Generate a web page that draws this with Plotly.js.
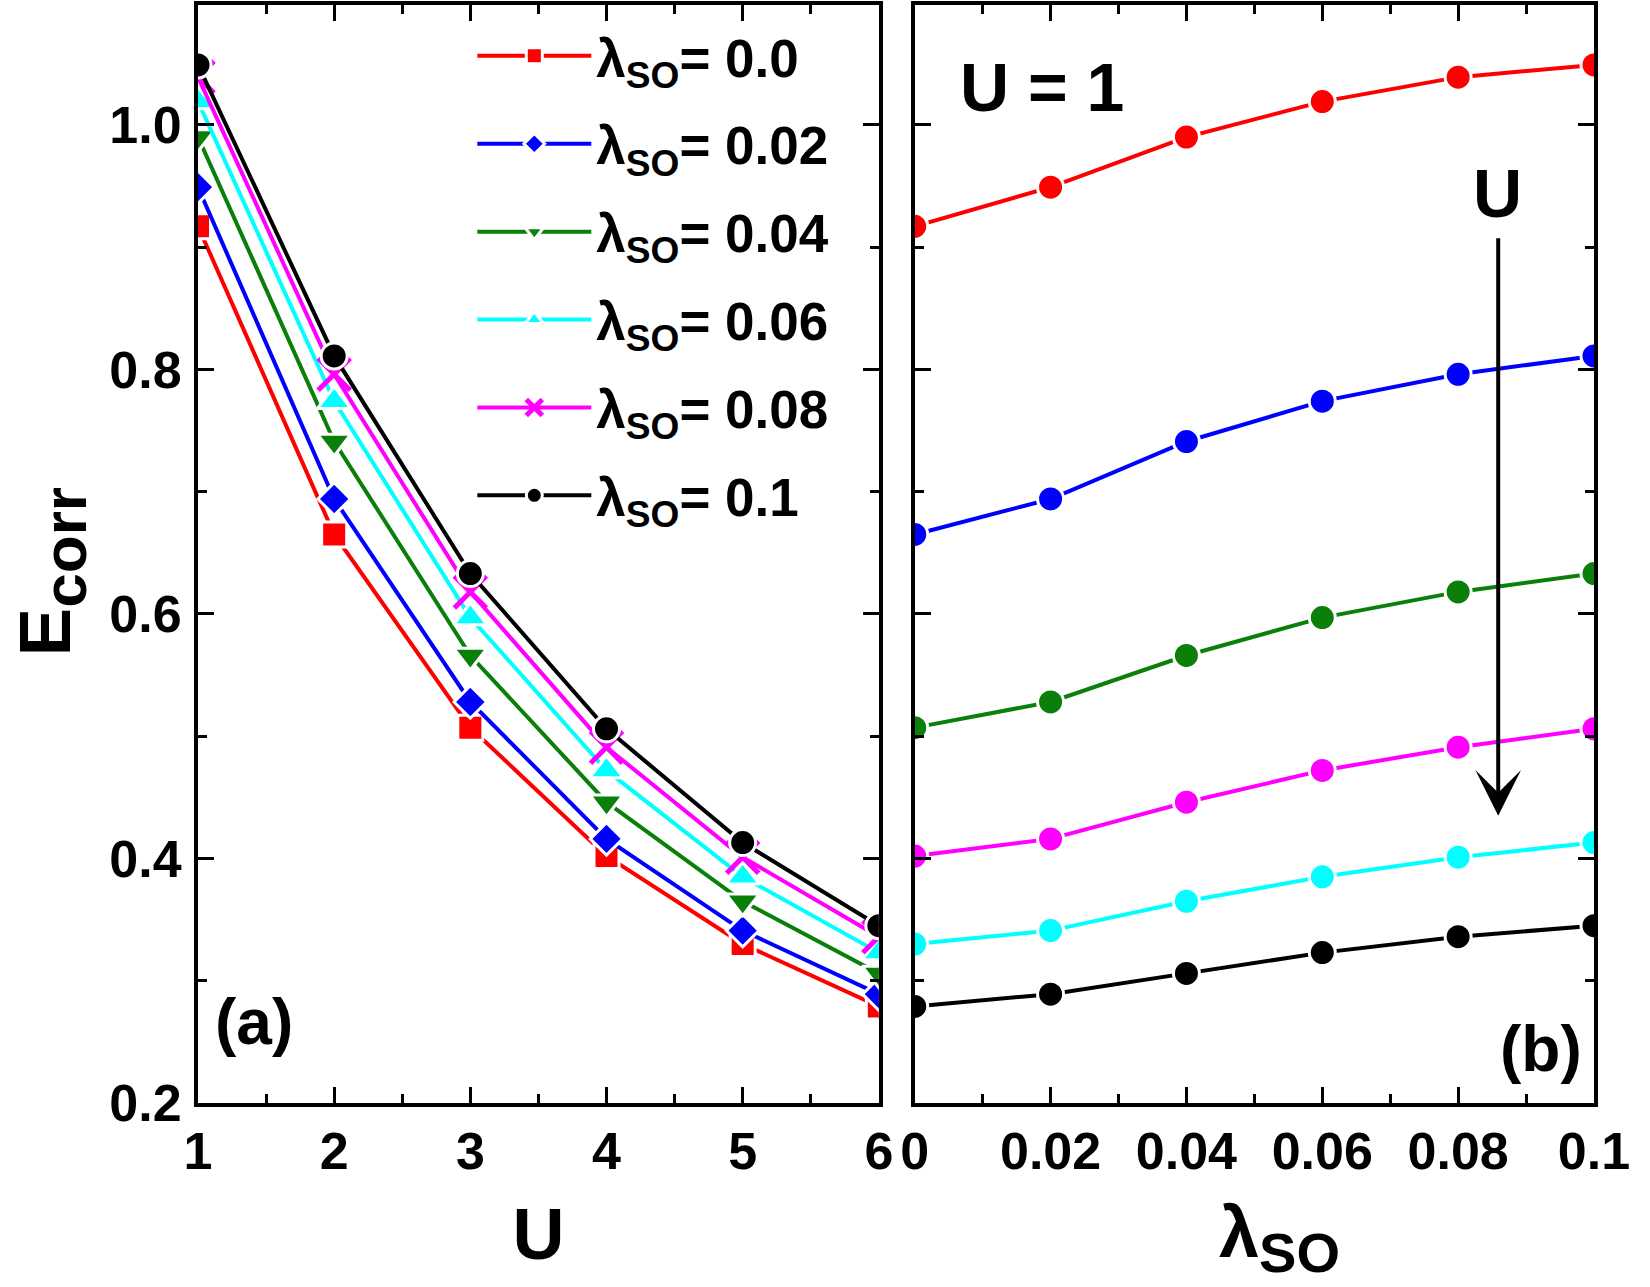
<!DOCTYPE html>
<html><head><meta charset="utf-8">
<script src="https://cdn.plot.ly/plotly-3.0.1.min.js"></script>
<style>html,body{margin:0;padding:0;background:#fff}#chart{width:1650px;height:1287px}</style>
</head><body><div id="chart"></div>
<script>
// ---- data ----
const U_values = [1, 2, 3, 4, 5, 6];
const lambda_values = [0, 0.02, 0.04, 0.06, 0.08, 0.1];
const lambda_labels = ['0.0', '0.02', '0.04', '0.06', '0.08', '0.1'];
// E_corr for each U, across lambda_values
const E_U1 = [0.917, 0.949, 0.990, 1.019, 1.039, 1.049];
const E_U2 = [0.665, 0.694, 0.741, 0.774, 0.796, 0.811];
const E_U3 = [0.507, 0.528, 0.566, 0.597, 0.618, 0.633];
const E_U4 = [0.402, 0.416, 0.446, 0.472, 0.491, 0.506];
const E_U5 = [0.330, 0.341, 0.365, 0.385, 0.401, 0.413];
const E_U6 = [0.279, 0.289, 0.306, 0.323, 0.336, 0.345];
const E_rows = [E_U1, E_U2, E_U3, E_U4, E_U5, E_U6];

// ---- styles ----
const FONT = 'Liberation Sans, Arial, Helvetica, sans-serif';
const lambdaColors = ['#ff0000', '#0000ff', '#0a800a', '#00ffff', '#ff00ff', '#000000'];
const lambdaSymbols = ['square', 'diamond', 'triangle-down', 'triangle-up', 'x-thin-open', 'circle'];
const lambdaSizes = [25, 25, 29, 29, 32, 26];
const U_colors = ['#ff0000', '#0000ff', '#0a800a', '#ff00ff', '#00ffff', '#000000'];

const traces = [];
lambda_values.forEach((lam, j) => {
  const isX = lambdaSymbols[j] === 'x-thin-open';
  traces.push({
    type: 'scatter', mode: 'lines+markers',
    x: U_values, y: E_rows.map(r => r[j]),
    name: '\u03bb<sub>SO</sub>= ' + lambda_labels[j],
    legendgroup: 'g' + j,
    xaxis: 'x', yaxis: 'y',
    line: {color: lambdaColors[j], width: 4},
    marker: {symbol: lambdaSymbols[j], size: lambdaSizes[j], color: lambdaColors[j],
             line: isX ? {color: lambdaColors[j], width: 5} : {color: '#ffffff', width: 3}}
  });
});
E_rows.forEach((row, i) => {
  traces.push({
    type: 'scatter', mode: 'lines+markers',
    x: lambda_values, y: row, showlegend: false,
    name: 'U = ' + U_values[i],
    xaxis: 'x2', yaxis: 'y2',
    line: {color: U_colors[i], width: 4},
    marker: {symbol: 'circle', size: 26, color: U_colors[i], line: {color: '#ffffff', width: 3}}
  });
});

const tickFont = {family: FONT, size: 52, color: '#000', weight: 'bold'};
const titleFont = {family: FONT, size: 72, color: '#000', weight: 'bold'};
const minorY = {ticks: 'inside', ticklen: 9, tickwidth: 3, tickcolor: '#000', dtick: 0.1, tick0: 0.2};
const common = {
  showline: true, linecolor: '#000', linewidth: 4, mirror: 'allticks',
  ticks: 'inside', ticklen: 16, tickwidth: 3, tickcolor: '#000',
  showgrid: false, zeroline: false, tickfont: tickFont
};

const layout = {
  width: 1650, height: 1287,
  margin: {l: 198, r: 56, t: 5, b: 184},
  paper_bgcolor: '#fff', plot_bgcolor: '#fff',
  font: {family: FONT, color: '#000'},
  showlegend: true,
  legend: {
    x: 0.1965, xanchor: 'left', y: 0.991, yanchor: 'top',
    bgcolor: 'rgba(0,0,0,0)', borderwidth: 0,
    font: {family: FONT, size: 53, color: '#000', weight: 'bold'},
    itemwidth: 114, tracegroupgap: 16
  },
  xaxis: Object.assign({}, common, {
    domain: [0, 0.4877], range: [1, 6], tick0: 1, dtick: 1, anchor: 'y',
    minor: {ticks: 'inside', ticklen: 9, tickwidth: 3, tickcolor: '#000', dtick: 0.5, tick0: 1},
    title: {text: 'U', font: titleFont, standoff: 30}
  }),
  yaxis: Object.assign({}, common, {
    domain: [0, 1], range: [0.2, 1.098], tick0: 0.2, dtick: 0.2, tickformat: '.1f', anchor: 'x',
    minor: minorY, ticklabelstandoff: 2
  }),
  xaxis2: Object.assign({}, common, {
    domain: [0.5134, 1], range: [0, 0.1], tick0: 0, dtick: 0.02, anchor: 'y2',
    minor: {ticks: 'inside', ticklen: 9, tickwidth: 3, tickcolor: '#000', dtick: 0.01, tick0: 0}
  }),
  yaxis2: Object.assign({}, common, {
    domain: [0, 1], range: [0.2, 1.098], tick0: 0.2, dtick: 0.2, anchor: 'x2',
    showticklabels: false, minor: minorY
  }),
  annotations: [
    {xref: 'paper', yref: 'paper', x: -0.105, y: 0.4836, xanchor: 'center', yanchor: 'middle',
     textangle: -90, text: 'E<sub><span style="font-size:62px">corr</span></sub>', showarrow: false,
     font: {family: FONT, size: 73, color: '#000', weight: 'bold'}},
    {xref: 'paper', yref: 'paper', x: 0.7744, y: -0.079, xanchor: 'center', yanchor: 'top',
     text: '\u03bb<sub><span style="font-size:56px">SO</span></sub>', showarrow: false,
     font: {family: FONT, size: 72, color: '#000', weight: 'bold'}},
    {xref: 'paper', yref: 'paper', x: 0.6046, y: 0.9253, text: 'U = 1', showarrow: false,
     xanchor: 'center', yanchor: 'middle', font: {family: FONT, size: 68, color: '#000', weight: 'bold'}},
    {xref: 'paper', yref: 'paper', x: 0.9312, y: 0.8288, text: 'U', showarrow: false,
     xanchor: 'center', yanchor: 'middle', font: {family: FONT, size: 68, color: '#000', weight: 'bold'}},
    {xref: 'paper', yref: 'paper', x: 0.0401, y: 0.0738, text: '(a)', showarrow: false,
     xanchor: 'center', yanchor: 'middle', font: {family: FONT, size: 64, color: '#000', weight: 'bold'}},
    {xref: 'paper', yref: 'paper', x: 0.962, y: 0.049, text: '(b)', showarrow: false,
     xanchor: 'center', yanchor: 'middle', font: {family: FONT, size: 64, color: '#000', weight: 'bold'}},
    {xref: 'x2', yref: 'y2', x: 0.0859, y: 0.435, axref: 'x2', ayref: 'y2', ax: 0.0859, ay: 0.9085,
     text: '', showarrow: true, arrowhead: 3, arrowsize: 1.9, arrowwidth: 4, arrowcolor: '#000'}
  ]
};

Plotly.newPlot('chart', traces, layout, {staticPlot: true, displayModeBar: false});
</script>
</body></html>
